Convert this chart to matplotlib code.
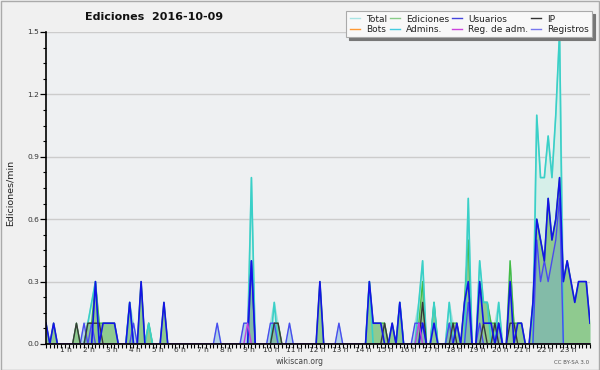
import numpy as np
import matplotlib
matplotlib.use("Agg")
import matplotlib.pyplot as plt
from matplotlib.lines import Line2D
from matplotlib.patches import Rectangle

# actions per 10-minute slot, 2016-10-09 (one row = 2 hours)
total = [1, 0, 1, 0, 0, 0, 0, 0, 1, 0, 1, 1,
         2, 3, 1, 1, 1, 1, 1, 0, 0, 0, 2, 1,
         0, 3, 0, 1, 0, 0, 0, 2, 0, 0, 0, 0,
         0, 0, 0, 0, 0, 0, 0, 0, 0, 1, 0, 0,
         0, 0, 0, 0, 1, 1, 8, 0, 0, 0, 0, 1,
         2, 1, 0, 0, 1, 0, 0, 0, 0, 0, 0, 0,
         3, 0, 0, 0, 0, 1, 0, 0, 0, 0, 0, 0,
         0, 3, 1, 1, 1, 1, 0, 1, 0, 2, 0, 0,
         0, 1, 2, 4, 0, 0, 2, 0, 0, 0, 2, 1,
         1, 0, 2, 7, 0, 0, 4, 2, 2, 1, 1, 2,
         0, 0, 4, 1, 1, 1, 0, 0, 2, 11, 8, 8,
         10, 8, 11, 15, 3, 4, 3, 2, 3, 3, 3, 1]
ediciones = [1, 0, 1, 0, 0, 0, 0, 0, 1, 0, 0, 1,
             1, 3, 1, 1, 1, 1, 1, 0, 0, 0, 2, 0,
             0, 3, 0, 1, 0, 0, 0, 2, 0, 0, 0, 0,
             0, 0, 0, 0, 0, 0, 0, 0, 0, 0, 0, 0,
             0, 0, 0, 0, 0, 0, 4, 0, 0, 0, 0, 0,
             1, 1, 0, 0, 0, 0, 0, 0, 0, 0, 0, 0,
             3, 0, 0, 0, 0, 0, 0, 0, 0, 0, 0, 0,
             0, 3, 1, 1, 1, 1, 0, 1, 0, 2, 0, 0,
             0, 0, 1, 3, 0, 0, 2, 0, 0, 0, 1, 1,
             1, 0, 2, 5, 0, 0, 3, 2, 2, 1, 1, 1,
             0, 0, 4, 1, 1, 1, 0, 0, 2, 6, 5, 4,
             7, 5, 6, 8, 3, 4, 3, 2, 3, 3, 3, 1]
usuarios = [1, 0, 1, 0, 0, 0, 0, 0, 0, 0, 0, 0,
            0, 3, 0, 1, 1, 1, 1, 0, 0, 0, 2, 0,
            0, 3, 0, 0, 0, 0, 0, 2, 0, 0, 0, 0,
            0, 0, 0, 0, 0, 0, 0, 0, 0, 0, 0, 0,
            0, 0, 0, 0, 0, 0, 4, 0, 0, 0, 0, 0,
            0, 0, 0, 0, 0, 0, 0, 0, 0, 0, 0, 0,
            3, 0, 0, 0, 0, 0, 0, 0, 0, 0, 0, 0,
            0, 3, 1, 1, 1, 0, 0, 1, 0, 2, 0, 0,
            0, 0, 0, 1, 0, 0, 1, 0, 0, 0, 0, 0,
            1, 0, 2, 3, 0, 0, 3, 1, 1, 1, 0, 1,
            0, 0, 3, 0, 1, 1, 0, 0, 2, 6, 5, 4,
            7, 5, 6, 8, 3, 4, 3, 2, 3, 3, 3, 1]
ip = [0, 0, 0, 0, 0, 0, 0, 0, 1, 0, 0, 1,
      1, 1, 1, 0, 0, 0, 0, 0, 0, 0, 0, 0,
      0, 0, 0, 0, 0, 0, 0, 0, 0, 0, 0, 0,
      0, 0, 0, 0, 0, 0, 0, 0, 0, 0, 0, 0,
      0, 0, 0, 0, 0, 0, 0, 0, 0, 0, 0, 0,
      1, 1, 0, 0, 0, 0, 0, 0, 0, 0, 0, 0,
      0, 0, 0, 0, 0, 0, 0, 0, 0, 0, 0, 0,
      0, 0, 0, 0, 0, 1, 0, 0, 0, 0, 0, 0,
      0, 0, 0, 2, 0, 0, 0, 0, 0, 0, 0, 1,
      0, 0, 0, 0, 0, 0, 0, 1, 0, 0, 1, 0,
      0, 0, 1, 1, 0, 0, 0, 0, 0, 0, 0, 0,
      0, 0, 0, 0, 0, 0, 0, 0, 0, 0, 0, 0]
bots = [0] * 144
admins = [0, 0, 0, 0, 0, 0, 0, 0, 0, 0, 0, 1,
          2, 3, 0, 0, 0, 0, 0, 0, 0, 0, 2, 0,
          0, 0, 0, 1, 0, 0, 0, 0, 0, 0, 0, 0,
          0, 0, 0, 0, 0, 0, 0, 0, 0, 0, 0, 0,
          0, 0, 0, 0, 0, 0, 8, 0, 0, 0, 0, 0,
          2, 0, 0, 0, 0, 0, 0, 0, 0, 0, 0, 0,
          0, 0, 0, 0, 0, 0, 0, 0, 0, 0, 0, 0,
          0, 3, 0, 0, 0, 0, 0, 0, 0, 2, 0, 0,
          0, 0, 2, 4, 0, 0, 2, 0, 0, 0, 2, 0,
          0, 0, 0, 7, 0, 0, 4, 2, 2, 0, 0, 2,
          0, 0, 0, 0, 0, 0, 0, 0, 0, 11, 8, 8,
          10, 8, 11, 15, 0, 0, 0, 0, 0, 0, 0, 0]
reg_adm = [0] * 53 + [1] + [0] * 44 + [1] + [0] * 45
registros = [0, 0, 0, 0, 0, 0, 0, 0, 0, 0, 1, 0,
             1, 0, 0, 0, 0, 0, 0, 0, 0, 0, 0, 1,
             0, 0, 0, 0, 0, 0, 0, 0, 0, 0, 0, 0,
             0, 0, 0, 0, 0, 0, 0, 0, 0, 1, 0, 0,
             0, 0, 0, 0, 1, 1, 4, 0, 0, 0, 0, 1,
             1, 0, 0, 0, 1, 0, 0, 0, 0, 0, 0, 0,
             0, 0, 0, 0, 0, 1, 0, 0, 0, 0, 0, 0,
             0, 0, 0, 0, 0, 0, 0, 0, 0, 0, 0, 0,
             0, 1, 1, 1, 0, 0, 0, 0, 0, 0, 1, 0,
             0, 0, 0, 2, 0, 0, 1, 0, 0, 0, 0, 1,
             0, 0, 0, 0, 0, 0, 0, 0, 0, 5, 3, 4,
             3, 4, 5, 7, 0, 0, 0, 0, 0, 0, 0, 0]
hours = list(range(1, 24))

x = np.arange(len(total))
per_min = lambda s: np.array(s) / 10.0

fig = plt.figure(figsize=(6, 3.7), dpi=100, facecolor='#f0f0f0')
ax = fig.add_axes([46 / 600, 26 / 370, 544 / 600, 312 / 370])
ax.set_facecolor('#eef0f2')

# filled areas
ax.fill_between(x, 0, per_min(total), color='#d6efe9', lw=0, zorder=1)
ax.fill_between(x, 0, per_min(ediciones), color='#8fca8f', lw=0, zorder=2)
ax.fill_between(x, 0, per_min(registros), color='#6f9fd8', alpha=0.35, lw=0, zorder=3)

# lines
ax.plot(x, per_min(total), color='#a6e2dc', lw=1.0, zorder=4)
ax.plot(x, per_min(bots), color='#ff9933', lw=1.0, zorder=4)
ax.plot(x, per_min(ediciones), color='#44bb44', lw=1.0, zorder=5)
ax.plot(x, per_min(admins), color='#3ad0c8', lw=1.2, zorder=6)
ax.plot(x, per_min(registros), color='#4a4af0', lw=1.0, zorder=7)
ax.plot(x, per_min(ip), color='#383838', lw=1.0, zorder=8)
ax.plot(x, per_min(usuarios), color='#1414e6', lw=1.2, zorder=9)
ax.plot(x, per_min(reg_adm), color='#c040e0', lw=1.0, zorder=9)

ax.set_xlim(0, 143)
ax.set_ylim(0, 1.5)

for s in ['top', 'right']:
    ax.spines[s].set_visible(False)
for s in ['left', 'bottom']:
    ax.spines[s].set_linewidth(1.2)
    ax.spines[s].set_zorder(12)

ax.set_xticks([6 * h - 0.7 for h in hours])
ax.set_xticklabels(['%d h' % h for h in hours])
ax.set_xticks(np.arange(0, 144), minor=True)
ax.tick_params(axis='x', which='major', length=0, pad=2.5, labelsize=5.4, labelcolor='#333333')
ax.tick_params(axis='x', which='minor', length=3, width=0.8, color='black')

yt = [0, 0.3, 0.6, 0.9, 1.2, 1.5]
ax.set_yticks(yt)
ax.set_yticklabels(['%.1f' % v for v in yt])
ax.set_yticks(np.arange(0, 1.5, 0.075), minor=True)
ax.tick_params(axis='y', which='major', length=4, width=0.9, pad=1, labelsize=5.4, labelcolor='#333333')
ax.tick_params(axis='y', which='minor', length=2.5, width=0.8)
ax.yaxis.grid(True, color='#cccccc', lw=1)
ax.set_axisbelow(True)

fig.text(154 / 600, 1 - 17 / 370, 'Ediciones  2016-10-09', ha='center', va='center',
         fontsize=8, fontweight='bold', color='#111111')
fig.text(10 / 600, 1 - 193 / 370, 'Ediciones/min', rotation=90, ha='center', va='center',
         fontsize=6.8, color='#222222')
fig.text(300 / 600, 1 - 361 / 370, 'wikiscan.org', ha='center', va='center',
         fontsize=5.5, color='#444444')
fig.text(589 / 600, 1 - 363 / 370, 'CC BY-SA 3.0', ha='right', va='center',
         fontsize=4, color='#555555')

# legend
names = ['Total', 'Bots', 'Ediciones', 'Admins.', 'Usuarios', 'Reg. de adm.', 'IP', 'Registros']
cols = ['#a8e4e4', '#ff9933', '#88cc88', '#44cce0', '#4444dd', '#cc44dd', '#333333', '#7777ee']
handles = [Line2D([0], [0], color=c, lw=1) for c in cols]
leg = fig.legend(handles, names, ncol=4, loc='upper right',
                 bbox_to_anchor=(592 / 600, 1 - 11.5 / 370), fontsize=6.5,
                 frameon=True, fancybox=False, shadow={'color': '#777777', 'alpha': 1},
                 framealpha=1, facecolor='#f8f8f8', edgecolor='#aaaaaa',
                 handlelength=1.1, handletextpad=0.7, columnspacing=0.3,
                 labelspacing=0.15, borderpad=0.35, borderaxespad=0)
leg.get_frame().set_linewidth(0.8)
for t in leg.get_texts():
    t.set_color('#222222')

fig.patches.append(Rectangle((0.001, 0.001), 0.998, 0.997, transform=fig.transFigure,
                             fill=False, edgecolor='#aaaaaa', lw=1))

fig.savefig('out.png', dpi=100, facecolor=fig.get_facecolor())
